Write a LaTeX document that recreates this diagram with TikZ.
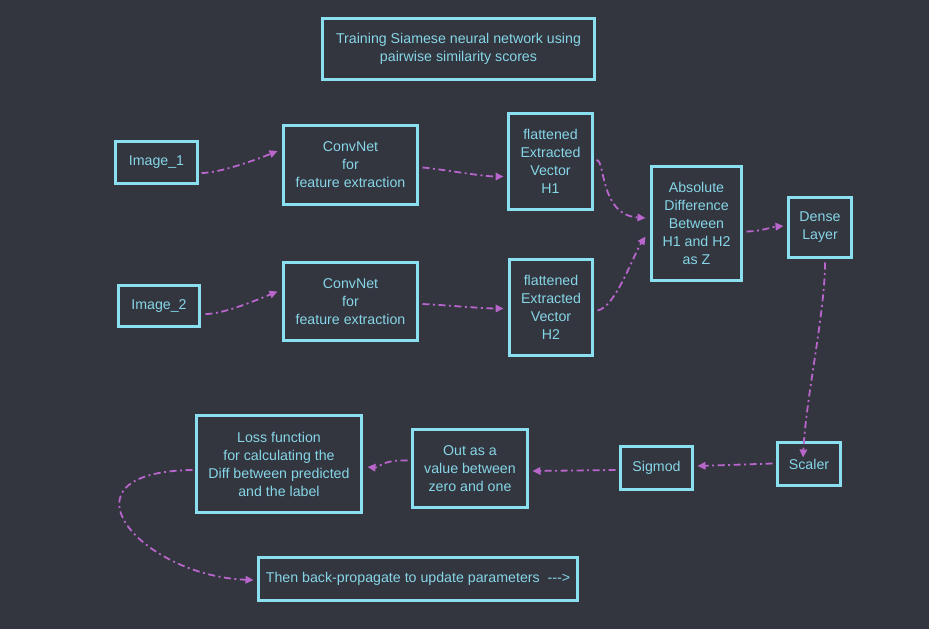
\documentclass[tikz,border=0pt]{standalone}
\usepackage{fontspec}
\setmainfont{Liberation Sans}
\usetikzlibrary{positioning, arrows.meta}

\definecolor{bgdark}{HTML}{33353F}
\definecolor{boxline}{HTML}{8AE0F0}
\definecolor{boxtext}{HTML}{86D6E7}
\definecolor{flowpink}{HTML}{B866CC}

\tikzset{
    stage/.style={draw=boxline, line width=2.2bp, text=boxtext, align=center,
        inner sep=0pt, outer sep=0pt, font=\fontsize{14.2bp}{18bp}\selectfont},
    flow/.style={draw=flowpink, line width=1.8bp,
        dash pattern=on 7bp off 3.5bp on 2bp off 3.5bp,
        -{Triangle[length=8bp,width=7.5bp]}},
}

\begin{document}
\begin{tikzpicture}[x=1bp, y=-1bp, node distance=40bp]
    \fill[bgdark] (0,0) rectangle (929,629);
    \useasboundingbox (0,0) rectangle (929,629);

    % upper branch
    \node [stage, minimum width=82bp, minimum height=42bp] (img_one) at (156.5,162.5) {Image\_1};
    \node [stage, minimum width=134bp, minimum height=79bp, right=86bp of img_one, yshift=-2.5bp] (conv_one) {ConvNet\\for\\feature extraction};
    \node [stage, minimum width=84bp, minimum height=96bp, right=91bp of conv_one, yshift=3.5bp] (flat_one) {flattened\\Extracted\\Vector\\H1};

    % lower branch
    \node [stage, minimum width=81bp, minimum height=41bp, below=102bp of img_one, xshift=2.5bp] (img_two) {Image\_2};
    \node [stage, minimum width=134bp, minimum height=78bp, right=84bp of img_two, yshift=4.5bp] (conv_two) {ConvNet\\for\\feature extraction};
    \node [stage, minimum width=83bp, minimum height=96bp, right=92bp of conv_two, yshift=-6bp] (flat_two) {flattened\\Extracted\\Vector\\H2};

    % title
    \node [stage, minimum width=272bp, minimum height=61bp, above=34bp of flat_one, xshift=-92bp] (title) {Training Siamese neural network using\\pairwise similarity scores};

    % merge and head
    \node [stage, minimum width=90bp, minimum height=114bp, right=59bp of flat_one, yshift=-62bp] (abs_diff) {Absolute\\Difference\\Between\\H1 and H2\\as Z};
    \node [stage, minimum width=63bp, minimum height=60bp, right=47bp of abs_diff, yshift=-4bp] (dense) {Dense\\Layer};
    \node [stage, minimum width=63bp, minimum height=43bp, below=185bp of dense, xshift=-11bp] (scaler) {Scaler};
    \node [stage, minimum width=72bp, minimum height=43bp, left=85bp of scaler, yshift=-4bp] (sigmod) {Sigmod};
    \node [stage, minimum width=115bp, minimum height=78bp, left=93bp of sigmod, yshift=-0.5bp] (out_val) {Out as a\\value between\\zero and one};
    \node [stage, minimum width=165bp, minimum height=97bp, left=51bp of out_val, yshift=4.5bp] (loss) {Loss function\\for calculating the\\Diff between predicted\\and the label};
    \node [stage, minimum width=319bp, minimum height=43bp, below=45bp of loss, xshift=139bp] (backprop) {Then back-propagate to update parameters\ \ -{}-{}->};

    % connectors
    \draw [flow] ([shift={(4,10.5)}]img_one.east) .. controls +(18,0) and +(-22,9) .. ([shift={(-6,-14)}]conv_one.west);
    \draw [flow] ([shift={(5,2.5)}]conv_one.east) .. controls +(22,2) and +(-22,0) .. ([shift={(-5,15)}]flat_one.west);
    \draw [flow] ([shift={(4,-1.5)}]flat_one.east) .. controls +(9,0) and +(-46,-3) .. ([shift={(-6,-5.5)}]abs_diff.west);
    \draw [flow] ([shift={(6,8)}]img_two.east) .. controls +(18,0) and +(-22,9) .. ([shift={(-6,-10)}]conv_two.west);
    \draw [flow] ([shift={(5,2.5)}]conv_two.east) .. controls +(22,1) and +(-22,0) .. ([shift={(-6,1)}]flat_two.west);
    \draw [flow] ([shift={(5,3)}]flat_two.east) .. controls +(18,-3) and +(-12,18) .. ([shift={(-6,13)}]abs_diff.west);
    \draw [flow] ([shift={(5,8)}]abs_diff.east) .. controls +(14,0) and +(-12,1) .. ([shift={(-5,-1.5)}]dense.west);
    \draw [flow] ([shift={(5,5)}]dense.south) .. controls +(0,50) and +(3,-60) .. ([shift={(-6,15)}]scaler.north);
    \draw [flow] ([shift={(-5,-0.5)}]scaler.west) -- ([shift={(5,-2)}]sigmod.east);
    \draw [flow] ([shift={(-5,2)}]sigmod.west) -- ([shift={(5,2.5)}]out_val.east);
    \draw [flow] ([shift={(-5,-8)}]out_val.west) .. controls +(-26,-1) and +(12,1) .. ([shift={(6,3)}]loss.east);
    \draw [flow] ([shift={(-4,6)}]loss.west) .. controls +(-142,2) and +(-113,-4) .. ([shift={(-5,1)}]backprop.west);
\end{tikzpicture}
\end{document}
